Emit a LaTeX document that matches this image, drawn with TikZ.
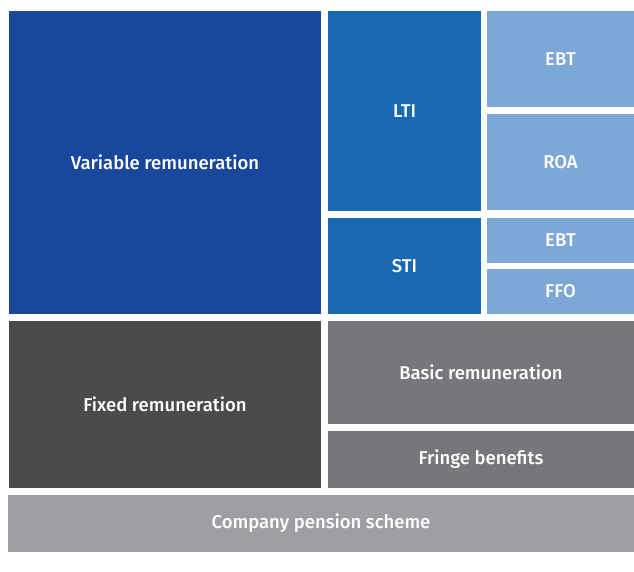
\documentclass[tikz,border=0pt]{standalone}
\usepackage{fontspec}
\setmainfont{Fira Sans}[BoldFont={Fira Sans Medium}]

\definecolor{varblue}{HTML}{19479B}
\definecolor{midblue}{HTML}{1868B2}
\definecolor{lightblue}{HTML}{7CA7D7}
\definecolor{darkgrey}{HTML}{4B4B4E}
\definecolor{midgrey}{HTML}{77777B}
\definecolor{lightgrey}{HTML}{9E9FA3}

\tikzset{
	tile/.style={rectangle, inner sep=0pt, outer sep=0pt, text=white,
		font=\fontsize{18.5}{21}\selectfont\bfseries}
}

\begin{document}
\begin{tikzpicture}[x=1pt, y=-1pt]
	
	% Page frame (pixels of the chart)
	\useasboundingbox (0,0) rectangle (634,571);
	
	% Variable part
	\node[tile, fill=varblue, minimum width=312pt, minimum height=303pt] (var) at (165,162.5) {Variable remuneration};
	\node[tile, fill=midblue, minimum width=153pt, minimum height=200pt] (lti) at (404.5,111) {LTI};
	\node[tile, fill=midblue, minimum width=153pt, minimum height=96pt] (sti) at (404.5,266) {STI};
	
	% Targets
	\node[tile, fill=lightblue, minimum width=147pt, minimum height=96pt] (ltiebt) at (560.5,59) {EBT};
	\node[tile, fill=lightblue, minimum width=147pt, minimum height=96pt] (ltiroa) at (560.5,162) {ROA};
	\node[tile, fill=lightblue, minimum width=147pt, minimum height=45pt] (stiebt) at (560.5,240.5) {EBT};
	\node[tile, fill=lightblue, minimum width=147pt, minimum height=45pt] (stiffo) at (560.5,291.5) {FFO};
	
	% Fixed part
	\node[tile, fill=darkgrey, minimum width=312pt, minimum height=167pt] (fixed) at (165,404.5) {Fixed remuneration};
	\node[tile, fill=midgrey, minimum width=306pt, minimum height=103pt] (basic) at (481,372.5) {Basic remuneration};
	\node[tile, fill=midgrey, minimum width=306pt, minimum height=57pt] (fringe) at (481,459.5) {Fringe benefits};
	
	% Pension
	\node[tile, fill=lightgrey, minimum width=626pt, minimum height=57pt] (pension) at (321,523.5) {Company pension scheme};
	
\end{tikzpicture}
\end{document}
